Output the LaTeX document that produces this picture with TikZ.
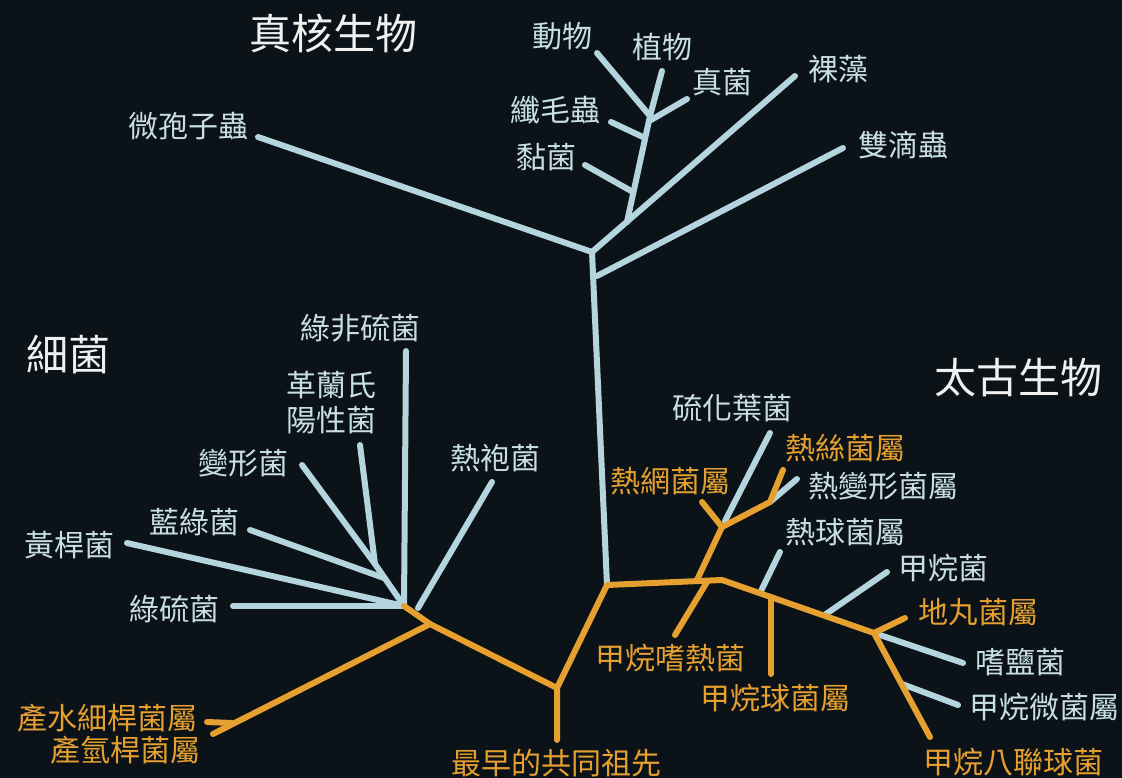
\documentclass[tikz,border=0pt]{standalone}
\usepackage{fontspec}
\newfontfamily\cjk{Noto Sans CJK TC}
\definecolor{bgc}{RGB}{12,19,24}
\definecolor{lineblue}{RGB}{180,212,222}
\definecolor{labblue}{RGB}{200,222,230}
\definecolor{orng}{RGB}{230,160,48}
\definecolor{ttl}{RGB}{240,240,240}
\begin{document}
\begin{tikzpicture}[x=1pt,y=-1pt,
  bline/.style={draw=lineblue,line width=6pt,line cap=round,line join=round},
  oline/.style={draw=orng,line width=6pt,line cap=round,line join=round},
  lab/.style={font=\cjk\fontsize{30}{35}\selectfont,text=labblue,inner sep=0pt,align=center},
  olab/.style={lab,text=orng},
  ttlab/.style={font=\cjk\fontsize{42}{46}\selectfont,text=ttl,inner sep=0pt}]
\fill[bgc] (0,0) rectangle (1122,778);
\useasboundingbox (0,0) rectangle (1122,778);

% ---------- labels ----------
\node[ttlab] (tEuk) at (333,33) {真核生物};
\node[ttlab] (tBac) at (68,355) {細菌};
\node[ttlab] (tArc) at (1018,378) {太古生物};

\node[lab] (lMs) at (188,126) {微孢子蟲};
\node[lab] (lAn) at (562,36) {動物};
\node[lab] (lPl) at (662,47) {植物};
\node[lab] (lFu) at (722,82) {真菌};
\node[lab] (lCi) at (555,110) {纖毛蟲};
\node[lab] (lSl) at (546,157) {黏菌};
\node[lab] (lEu) at (838,69) {裸藻};
\node[lab] (lDp) at (903,145) {雙滴蟲};

\node[lab] (lGn) at (360,328) {綠非硫菌};
\node[lab] (lGp) at (331,403) {革蘭氏\\陽性菌};
\node[lab] (lPr) at (243,463) {變形菌};
\node[lab] (lCy) at (194,522) {藍綠菌};
\node[lab] (lFl) at (69,545) {黃桿菌};
\node[lab] (lGs) at (174,609) {綠硫菌};
\node[lab] (lTg) at (495,458) {熱袍菌};
\node[olab] (lAq) at (107,718) {產水細桿菌屬};
\node[olab] (lHy) at (125,750) {產氫桿菌屬};
\node[olab] (lRoot) at (556,763) {最早的共同祖先};

\node[lab] (lSu) at (732,408) {硫化葉菌};
\node[olab] (lPd) at (670,481) {熱網菌屬};
\node[olab] (lTf) at (845,448) {熱絲菌屬};
\node[lab] (lTp) at (883,486) {熱變形菌屬};
\node[lab] (lTc) at (845,532) {熱球菌屬};
\node[lab] (lMb) at (943,568) {甲烷菌};
\node[olab] (lTpl) at (978,612) {地丸菌屬};
\node[lab] (lHa) at (1020,662) {嗜鹽菌};
\node[lab] (lMm) at (1044,707) {甲烷微菌屬};
\node[olab] (lMs8) at (1013,762) {甲烷八聯球菌};
\node[olab] (lMt) at (670,658) {甲烷嗜熱菌};
\node[olab] (lMc) at (775,698) {甲烷球菌屬};

% ---------- coordinates ----------
% eukaryotes
\coordinate (eJ) at (592,252);
\coordinate (eB) at (607,585);
\coordinate (eD) at (597,276);
\coordinate (eMsE) at (258,137);
\coordinate (eDpE) at (843,148);
\coordinate (eEuE) at (795,76);
\coordinate (eC) at (627,222);
\coordinate (eSlJ) at (633,192);
\coordinate (eCiJ) at (645,138);
\coordinate (eTop) at (650,116);
\coordinate (eSlE) at (585,165);
\coordinate (eCiE) at (611,122);
\coordinate (eAnE) at (597,53);
\coordinate (ePlE) at (662,71);
\coordinate (eFuE) at (687,99);
\coordinate (eFuJ) at (651,120);
% bacteria
\coordinate (bH) at (404,606);
\coordinate (bGnE) at (406,351);
\coordinate (bGpE) at (360,445);
\coordinate (bPrE) at (302,465);
\coordinate (bPJ) at (375,564);
\coordinate (bCyE) at (250,530);
\coordinate (bCyJ) at (384,578);
\coordinate (bFlE) at (127,543);
\coordinate (bGsE) at (233,606);
\coordinate (bTgE) at (492,482);
\coordinate (bTgJ) at (418,608);
\coordinate (bA) at (430,624);
\coordinate (bAqE) at (213,734);
\coordinate (bHyJ) at (232,723);
\coordinate (bHyE) at (207,722);
\coordinate (R) at (557,688);
\coordinate (RE) at (557,740);
% archaea
\coordinate (aC) at (607,585);
\coordinate (aM) at (722,580);
\coordinate (aG) at (874,633);
\coordinate (aOcE) at (930,737);
\coordinate (aTb) at (697,580);
\coordinate (aT) at (722,527);
\coordinate (aPdE) at (702,502);
\coordinate (aSuE) at (770,433);
\coordinate (aSuJ) at (725,521);
\coordinate (aPf) at (770,502);
\coordinate (aTfE) at (783,470);
\coordinate (aTpE) at (797,479);
\coordinate (aMtJ) at (707,582);
\coordinate (aMtE) at (675,635);
\coordinate (aTcE) at (780,552);
\coordinate (aTcJ) at (761,591);
\coordinate (aMcJ) at (771,597);
\coordinate (aMcE) at (771,674);
\coordinate (aMbE) at (887,572);
\coordinate (aMbJ) at (826,614);
\coordinate (aTplE) at (905,618);
\coordinate (aHaE) at (963,663);
\coordinate (aMmJ) at (902,684);
\coordinate (aMmE) at (958,705);

% ---------- blue branches ----------
\draw[bline] (eMsE) -- (eJ) -- (eB);
\draw[bline] (eD) -- (eDpE);
\draw[bline] (eJ) -- (eEuE);
\draw[bline] (eC) -- (eTop);
\draw[bline] (eSlE) -- (eSlJ);
\draw[bline] (eCiE) -- (eCiJ);
\draw[bline] (eAnE) -- (eTop);
\draw[bline] (ePlE) -- (eTop);
\draw[bline] (eFuE) -- (eFuJ);

\draw[bline] (bGnE) -- (bH);
\draw[bline] (bGpE) -- (bPJ);
\draw[bline] (bPrE) -- (bPJ) -- (bH);
\draw[bline] (bCyE) -- (bCyJ);
\draw[bline] (bFlE) -- (bH);
\draw[bline] (bGsE) -- (bH);
\draw[bline] (bTgE) -- (bTgJ);

\draw[bline] (aSuE) -- (aSuJ);
\draw[bline] (aTpE) -- (aPf);
\draw[bline] (aTcE) -- (aTcJ);
\draw[bline] (aMbE) -- (aMbJ);
\draw[bline] (aG) -- (aHaE);
\draw[bline] (aMmJ) -- (aMmE);

% ---------- orange branches ----------
\draw[oline] (bH) -- (bA) -- (R) -- (RE);
\draw[oline] (bA) -- (bAqE);
\draw[oline] (bHyJ) -- (bHyE);
\draw[oline] (R) -- (aC) -- (aM) -- (aG) -- (aOcE);
\draw[oline] (aTb) -- (aT) -- (aPf) -- (aTfE);
\draw[oline] (aT) -- (aPdE);
\draw[oline] (aMtJ) -- (aMtE);
\draw[oline] (aMcJ) -- (aMcE);
\draw[oline] (aG) -- (aTplE);
\end{tikzpicture}
\end{document}
